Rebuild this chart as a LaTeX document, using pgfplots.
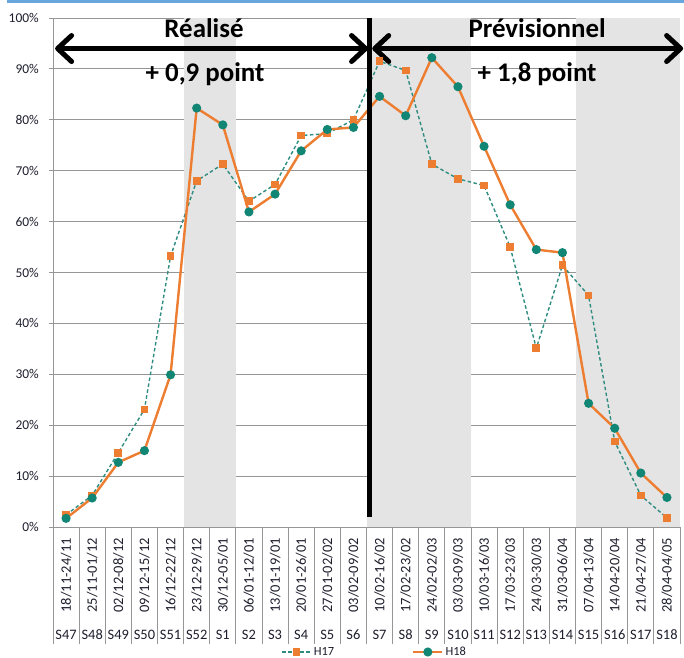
\documentclass[border=0pt]{standalone}
\usepackage{pgfplots}
\pgfplotsset{compat=1.18}
\usepackage{fontspec}
\setmainfont{Carlito}
\usetikzlibrary{arrows.meta}
\definecolor{xlorange}{RGB}{237,125,49}
\definecolor{xlteal}{RGB}{18,134,116}
\definecolor{xldash}{RGB}{46,140,128}
\definecolor{bandgray}{RGB}{228,228,228}
\definecolor{gridgray}{RGB}{150,150,150}
\definecolor{topblue}{RGB}{106,166,222}
\definecolor{labcol}{RGB}{30,30,45}

\pgfplotstableread{
x h17 h18
0 2.4 1.7
1 6.2 5.7
2 14.6 12.7
3 23.1 15.0
4 53.2 29.9
5 68.0 82.3
6 71.3 79.0
7 64.0 61.9
8 67.3 65.4
9 76.9 73.9
10 77.3 78.1
11 80.0 78.5
12 91.5 84.6
13 89.7 80.8
14 71.3 92.2
15 68.4 86.5
16 67.1 74.8
17 55.0 63.3
18 35.1 54.5
19 51.4 53.9
20 45.5 24.3
21 16.8 19.4
22 6.2 10.6
23 1.8 5.8
}\data

\begin{document}
\begin{tikzpicture}
\begin{axis}[
  at={(0bp,0bp)}, anchor=south west,
  scale only axis, width=627bp, height=509bp,
  xmin=-0.5, xmax=23.5, ymin=0, ymax=100,
  clip=false,
  axis lines*=left,
  axis line style={draw=gridgray, line width=0.8bp},
  ytick={0,10,...,100},
  yticklabels={0\%,10\%,20\%,30\%,40\%,50\%,60\%,70\%,80\%,90\%,100\%},
  ymajorgrids, grid style={draw=gridgray, line width=0.8bp},
  tick align=outside, major tick length=4bp,
  ytick style={draw=gridgray, line width=0.8bp},
  xtick style={draw=none},
  yticklabel style={font=\fontsize{13.5}{14}\selectfont, text=labcol, anchor=east, inner sep=0pt, xshift=-10bp},
  xtick={0,...,23},
  xticklabels={18/11-24/11,25/11-01/12,02/12-08/12,09/12-15/12,16/12-22/12,23/12-29/12,30/12-05/01,06/01-12/01,13/01-19/01,20/01-26/01,27/01-02/02,03/02-09/02,10/02-16/02,17/02-23/02,24/02-02/03,03/03-09/03,10/03-16/03,17/03-23/03,24/03-30/03,31/03-06/04,07/04-13/04,14/04-20/04,21/04-27/04,28/04-04/05},
  xticklabel shift=7bp,
  xticklabel style={font=\fontsize{14.5}{15}\selectfont, text=labcol, rotate=90, anchor=east, inner sep=0pt},
  legend columns=2,
  legend style={at={(0.513,-0.2456)}, anchor=center, draw=none, fill=none,
    font=\fontsize{12.5}{13}\selectfont, text=labcol,
    /tikz/every even column/.append style={column sep=76bp}},
  legend image code/.code={\draw[mark repeat=2,mark phase=2,#1] plot coordinates {(0bp,0bp)(14.5bp,0bp)(29bp,0bp)};},
]
% shaded bands
\addplot[fill=bandgray, draw=none, forget plot] coordinates {(4.5,100) (6.5,100)} \closedcycle;
\addplot[fill=bandgray, draw=none, forget plot] coordinates {(11.5,100) (15.5,100)} \closedcycle;
\addplot[fill=bandgray, draw=none, forget plot] coordinates {(19.5,100) (23.5,100)} \closedcycle;

% separators below axis
\pgfplotsinvokeforeach{-0.5,0.5,1.5,2.5,3.5,4.5,5.5,6.5,7.5,8.5,9.5,10.5,11.5,12.5,13.5,14.5,15.5,16.5,17.5,18.5,19.5,20.5,21.5,22.5,23.5}{
  \draw[draw=gridgray, line width=0.8bp] (axis cs:#1,0) -- ++(0bp,-117bp);
}

\addplot[xldash, line width=1.4bp, dash pattern=on 3.5bp off 2.5bp,
  mark=square*, mark size=3.2bp, mark options={solid, fill=xlorange, draw=xlorange}]
  table[x=x, y=h17] {\data};
\addlegendentry{H17}
\addplot[xlorange, line width=2.4bp,
  mark=*, mark size=3.3bp, mark options={solid, fill=xlteal, draw=xlteal}]
  table[x=x, y=h18] {\data};
\addlegendentry{H18}

% vertical separator
\draw[black, line width=5bp] (axis cs:11.63,100) -- (axis cs:11.63,2);
% arrows
\draw[black, line width=5bp, {Straight Barb[length=14bp, width=26bp, round]}-{Straight Barb[length=14bp, width=26bp, round]}]
  (axis cs:-0.42,94) -- (axis cs:11.56,94);
\draw[black, line width=5bp, {Straight Barb[length=14bp, width=26bp, round]}-{Straight Barb[length=14bp, width=26bp, round]}]
  (axis cs:11.72,94) -- (axis cs:23.62,94);
% texts
\node[font=\fontsize{27}{28}\selectfont\bfseries] at (axis cs:5.28,98.1) {Réalisé};
\node[font=\fontsize{27}{28}\selectfont\bfseries] at (axis cs:5.32,88.9) {+ 0,9 point};
\node[font=\fontsize{27}{28}\selectfont\bfseries] at (axis cs:18.03,98.1) {Prévisionnel};
\node[font=\fontsize{27}{28}\selectfont\bfseries] at (axis cs:18.03,88.9) {+ 1,8 point};
\end{axis}

\begin{axis}[
  at={(0bp,0bp)}, anchor=south west,
  scale only axis, width=627bp, height=509bp,
  xmin=-0.5, xmax=23.5, ymin=0, ymax=100,
  hide y axis, axis x line*=bottom, x axis line style={draw=none},
  xtick={0,...,23}, xtick style={draw=none}, major tick length=0bp,
  xticklabels={S47,S48,S49,S50,S51,S52,S1,S2,S3,S4,S5,S6,S7,S8,S9,S10,S11,S12,S13,S14,S15,S16,S17,S18},
  xticklabel style={font=\fontsize{14.5}{15}\selectfont, text=labcol, anchor=center, inner sep=0pt, yshift=-108bp},
]
\addplot[draw=none] coordinates {(0,0)};
\end{axis}

\fill[topblue] (-46bp,524bp) rectangle (631bp,527bp);
\pgfresetboundingbox
\path (-53bp,-131bp) rectangle (631bp,527bp);
\end{tikzpicture}
\end{document}
